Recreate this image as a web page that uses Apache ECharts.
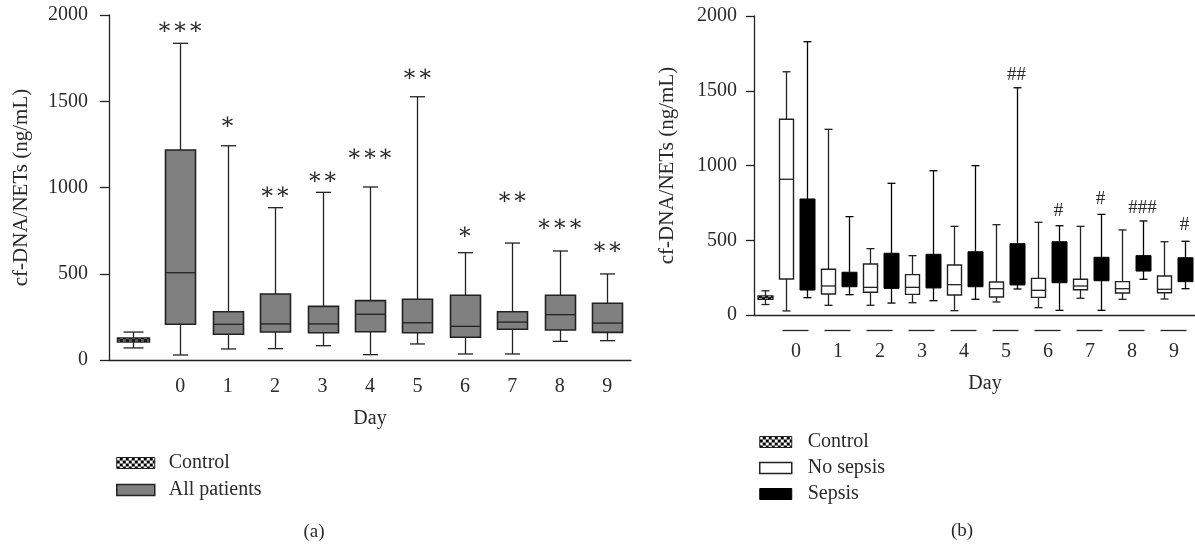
<!DOCTYPE html>
<html>
<head>
<meta charset="utf-8">
<script src="https://cdn.jsdelivr.net/npm/echarts@6/dist/echarts.min.js"></script>
<style>
  html, body { margin: 0; padding: 0; background: #fff; }
  #chart { width: 1195px; height: 545px; }
</style>
</head>
<body>
<div id="chart"></div>
<script>
// box = [min, Q1, median, Q3, max]
const catsA = ["Control", "0", "1", "2", "3", "4", "5", "6", "7", "8", "9"];
const controlBox = [70, 104, 116, 128, 162];
const allPatients = [
  [29, 207, 506, 1217, 1836],
  [64, 149, 207, 280, 1242],
  [66, 162, 209, 383, 883],
  [83, 158, 209, 311, 972],
  [31, 164, 265, 344, 1003],
  [93, 158, 216, 352, 1526],
  [35, 132, 195, 375, 622],
  [35, 178, 220, 280, 678],
  [108, 174, 263, 375, 632],
  [112, 160, 214, 329, 499],
];
const starsA = ["∗∗∗", "∗", "∗∗", "∗∗", "∗∗∗", "∗∗", "∗", "∗∗", "∗∗∗", "∗∗"];
const starLevelA = [1925, 1374, 968, 1055, 1188, 1652, 736, 939, 783, 649];

const days = ["0", "1", "2", "3", "4", "5", "6", "7", "8", "9"];
const noSepsis = [
  [27, 241, 908, 1309, 1627],
  [65, 140, 194, 306, 1242],
  [65, 152, 185, 341, 444],
  [82, 138, 185, 270, 397],
  [29, 134, 203, 334, 593],
  [87, 120, 176, 221, 604],
  [49, 118, 165, 245, 620],
  [112, 169, 194, 239, 593],
  [105, 147, 176, 223, 569],
  [107, 149, 172, 261, 490],
];
const sepsis = [
  [116, 167, 420, 776, 1828],
  [136, 189, 240, 286, 658],
  [80, 178, 280, 413, 881],
  [96, 181, 280, 406, 965],
  [105, 189, 300, 423, 999],
  [174, 201, 330, 477, 1520],
  [31, 216, 350, 490, 597],
  [31, 229, 300, 386, 673],
  [239, 294, 350, 397, 629],
  [176, 223, 300, 383, 493],
];
const hashB = ["", "", "", "", "", "##", "#", "#", "###", "#"];
const hashLevelB = [0, 0, 0, 0, 0, 1605, 698, 774, 718, 602];

const FONT = "'Liberation Serif', 'DejaVu Serif', serif";
const INK = "#222";
const TXT = "#2a2a2a";

// checkerboard fill for the control group
const pat = document.createElement("canvas");
pat.width = 6;
pat.height = 6;
const pg = pat.getContext("2d");
pg.fillStyle = "#000";
pg.fillRect(0, 0, 6, 6);
pg.fillStyle = "#fff";
pg.fillRect(0, 0, 3, 3);
pg.fillRect(3, 3, 3, 3);
const checker = { image: pat, repeat: "repeat" };

const catsB = ["Control"];
days.forEach((d) => catsB.push("N" + d, "S" + d));

function boxRenderer(o) {
  return function (params, api) {
    const x = api.value(0);
    const lo = api.coord([x, api.value(1)]);
    const q1 = api.coord([x, api.value(2)]);
    const md = api.coord([x, api.value(3)]);
    const q3 = api.coord([x, api.value(4)]);
    const hi = api.coord([x, api.value(5)]);
    const cx = Math.round(lo[0]) + 0.5;
    const hw = o.box / 2;
    const hc = o.cap / 2;
    const stroke = o.stroke || INK;
    const ln = { stroke: stroke, lineWidth: o.lw };
    return {
      type: "group",
      children: [
        { type: "line", shape: { x1: cx, y1: hi[1], x2: cx, y2: q3[1] }, style: ln },
        { type: "line", shape: { x1: cx, y1: q1[1], x2: cx, y2: lo[1] }, style: ln },
        { type: "line", shape: { x1: cx - hc, y1: hi[1], x2: cx + hc, y2: hi[1] }, style: ln },
        { type: "line", shape: { x1: cx - hc, y1: lo[1], x2: cx + hc, y2: lo[1] }, style: ln },
        {
          type: "rect",
          shape: { x: cx - hw, y: q3[1], width: o.box, height: q1[1] - q3[1] },
          style: { fill: o.fill, stroke: stroke, lineWidth: o.boxLw },
        },
        { type: "line", shape: { x1: cx - hw, y1: md[1], x2: cx + hw, y2: md[1] }, style: ln },
      ],
    };
  };
}

function textRenderer(texts, size) {
  return function (params, api) {
    const p = api.coord([api.value(0), api.value(1)]);
    return {
      type: "text",
      x: p[0],
      y: p[1],
      style: {
        text: texts[params.dataIndex],
        align: "center",
        verticalAlign: "middle",
        font: size + "px " + FONT,
        fill: TXT,
      },
    };
  };
}

const plain = (v) => String(v);

const chart = echarts.init(document.getElementById("chart"));
chart.setOption({
  animation: false,
  grid: [
    { left: 109, top: 15, width: 522, height: 345 },
    { left: 754, top: 16, width: 449, height: 299 },
  ],
  xAxis: [
    {
      gridIndex: 0,
      type: "category",
      data: catsA,
      name: "Day",
      nameLocation: "middle",
      nameGap: 49,
      nameTextStyle: { fontFamily: FONT, fontSize: 20, color: TXT },
      axisLine: { lineStyle: { color: INK, width: 1.3 } },
      axisTick: { alignWithLabel: true, interval: 0, length: 5, lineStyle: { color: INK, width: 1.3 } },
      axisLabel: {
        interval: 0,
        margin: 17,
        fontFamily: FONT,
        fontSize: 20,
        color: TXT,
        formatter: (v) => (v === "Control" ? "" : v),
      },
    },
    {
      gridIndex: 1,
      type: "category",
      data: catsB,
      name: "Day",
      nameLocation: "middle",
      nameGap: 59,
      nameTextStyle: { fontFamily: FONT, fontSize: 20, color: TXT, padding: [0, 0, 0, 21] },
      axisLine: { lineStyle: { color: INK, width: 1.3 } },
      axisTick: { alignWithLabel: true, interval: 0, length: 5, lineStyle: { color: INK, width: 1.3 } },
      axisLabel: { show: false },
    },
  ],
  yAxis: [
    {
      gridIndex: 0,
      type: "value",
      min: 0,
      max: 2000,
      interval: 500,
      name: "cf-DNA/NETs (ng/mL)",
      nameLocation: "middle",
      nameGap: 77,
      nameTextStyle: { fontFamily: FONT, fontSize: 21, color: TXT },
      axisLine: { show: true, lineStyle: { color: INK, width: 1.3 } },
      axisTick: { show: true, length: 9, lineStyle: { color: INK, width: 1.3 } },
      axisLabel: { fontFamily: FONT, fontSize: 20, color: TXT, margin: 21, formatter: plain },
      splitLine: { show: false },
    },
    {
      gridIndex: 1,
      type: "value",
      min: 0,
      max: 2000,
      interval: 500,
      name: "cf-DNA/NETs (ng/mL)",
      nameLocation: "middle",
      nameGap: 76,
      nameTextStyle: { fontFamily: FONT, fontSize: 21, color: TXT },
      axisLine: { show: true, lineStyle: { color: INK, width: 1.3 } },
      axisTick: { show: true, length: 8, lineStyle: { color: INK, width: 1.3 } },
      axisLabel: { fontFamily: FONT, fontSize: 20, color: TXT, margin: 17, formatter: plain },
      splitLine: { show: false },
    },
  ],
  legend: [
    {
      orient: "vertical",
      left: 111,
      top: 448,
      icon: "rect",
      itemWidth: 38,
      itemHeight: 11,
      itemGap: 7,
      selectedMode: false,
      textStyle: { fontFamily: FONT, fontSize: 20, color: TXT, padding: [0, 0, 0, 9] },
      data: [
        { name: "Control", itemStyle: { color: checker, borderColor: INK, borderWidth: 1 } },
        { name: "All patients", itemStyle: { color: "#808080", borderColor: INK, borderWidth: 1.5 } },
      ],
    },
    {
      orient: "vertical",
      left: 754,
      top: 427,
      icon: "rect",
      itemWidth: 32,
      itemHeight: 11,
      itemGap: 6,
      selectedMode: false,
      textStyle: { fontFamily: FONT, fontSize: 20, color: TXT, padding: [0, 0, 0, 11] },
      data: [
        { name: "Control", itemStyle: { color: checker, borderColor: INK, borderWidth: 1 } },
        { name: "No sepsis", itemStyle: { color: "#fff", borderColor: INK, borderWidth: 1.5 } },
        { name: "Sepsis", itemStyle: { color: "#000", borderColor: "#000", borderWidth: 1 } },
      ],
    },
  ],
  graphic: [
    { type: "text", x: 314, y: 532, style: { text: "(a)", font: "19px " + FONT, fill: TXT, align: "center", verticalAlign: "middle" } },
    { type: "text", x: 962, y: 531, style: { text: "(b)", font: "19px " + FONT, fill: TXT, align: "center", verticalAlign: "middle" } },
  ],
  series: [
    {
      name: "Control",
      type: "custom",
      xAxisIndex: 0,
      yAxisIndex: 0,
      itemStyle: { color: checker },
      encode: { x: 0, y: [1, 2, 3, 4, 5] },
      renderItem: boxRenderer({ box: 32, cap: 20, lw: 1.3, boxLw: 1.5, fill: checker }),
      data: [[0].concat(controlBox)],
    },
    {
      name: "All patients",
      type: "custom",
      xAxisIndex: 0,
      yAxisIndex: 0,
      itemStyle: { color: "#808080" },
      encode: { x: 0, y: [1, 2, 3, 4, 5] },
      renderItem: boxRenderer({ box: 30, cap: 15, lw: 1.3, boxLw: 1.6, fill: "#808080" }),
      data: allPatients.map((b, i) => [i + 1].concat(b)),
    },
    {
      name: "starsA",
      type: "custom",
      xAxisIndex: 0,
      yAxisIndex: 0,
      silent: true,
      encode: { x: 0, y: 1 },
      renderItem: textRenderer(starsA, 23),
      data: starLevelA.map((v, i) => [i + 1, v]),
    },
    {
      name: "Control",
      type: "custom",
      xAxisIndex: 1,
      yAxisIndex: 1,
      itemStyle: { color: checker },
      encode: { x: 0, y: [1, 2, 3, 4, 5] },
      renderItem: boxRenderer({ box: 15, cap: 8, lw: 1.3, boxLw: 1.3, fill: checker }),
      data: [[0].concat(controlBox)],
    },
    {
      name: "No sepsis",
      type: "custom",
      xAxisIndex: 1,
      yAxisIndex: 1,
      itemStyle: { color: "#fff" },
      encode: { x: 0, y: [1, 2, 3, 4, 5] },
      renderItem: boxRenderer({ box: 14, cap: 8, lw: 1.3, boxLw: 1.4, fill: "#fff" }),
      data: noSepsis.map((b, i) => [1 + 2 * i].concat(b)),
    },
    {
      name: "Sepsis",
      type: "custom",
      xAxisIndex: 1,
      yAxisIndex: 1,
      itemStyle: { color: "#000" },
      encode: { x: 0, y: [1, 2, 3, 4, 5] },
      renderItem: boxRenderer({ box: 15, cap: 8, lw: 1.3, boxLw: 1, fill: "#000", stroke: "#000" }),
      data: sepsis.map((b, i) => [2 + 2 * i].concat(b)),
    },
    {
      name: "hashB",
      type: "custom",
      xAxisIndex: 1,
      yAxisIndex: 1,
      silent: true,
      encode: { x: 0, y: 1 },
      renderItem: textRenderer(hashB, 19),
      data: hashLevelB.map((v, i) => [2 + 2 * i, v]),
    },
    {
      // day labels under each No sepsis / Sepsis pair
      name: "daysB",
      type: "custom",
      xAxisIndex: 1,
      yAxisIndex: 1,
      silent: true,
      clip: false,
      renderItem: function (params, api) {
        const x = api.value(0);
        const a = api.coord([x, 0]);
        const b = api.coord([x + 1, 0]);
        const y = Math.round(a[1] + 15) + 0.5;
        return {
          type: "group",
          children: [
            { type: "line", shape: { x1: a[0] - 3, y1: y, x2: b[0] + 2, y2: y }, style: { stroke: INK, lineWidth: 1.3 } },
            {
              type: "text",
              x: (a[0] + b[0]) / 2,
              y: a[1] + 37,
              style: { text: days[params.dataIndex], font: "20px " + FONT, fill: TXT, align: "center", verticalAlign: "middle" },
            },
          ],
        };
      },
      data: days.map((d, i) => [1 + 2 * i, 0]),
    },
  ],
});
</script>
</body>
</html>
